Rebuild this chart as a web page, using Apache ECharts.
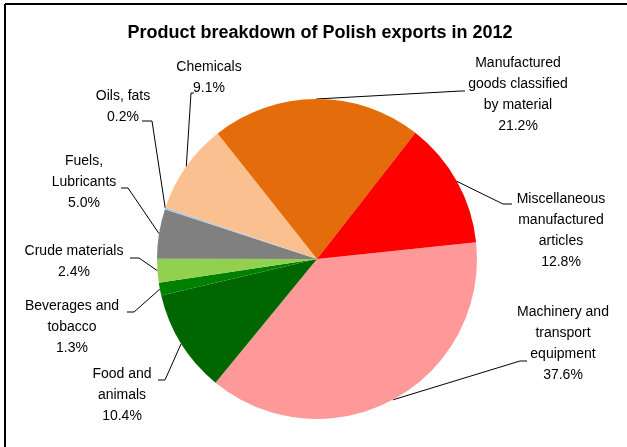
<!DOCTYPE html>
<html>
<head>
<meta charset="utf-8">
<style>
  html, body { margin: 0; padding: 0; background: #fff; }
  #chart { width: 627px; height: 447px; }
</style>
<script src="https://cdn.jsdelivr.net/npm/echarts@6/dist/echarts.min.js"></script>
</head>
<body>
<div id="chart"></div>
<script>
// Product groups, in clockwise drawing order
const categories = [
  'Machinery and\ntransport\nequipment',
  'Food and\nanimals',
  'Beverages and\ntobacco',
  'Crude materials',
  'Fuels,\nLubricants',
  'Oils, fats',
  'Chemicals',
  'Manufactured\ngoods classified\nby material',
  'Miscellaneous\nmanufactured\narticles'
];
// Share of exports, percent
const shares = [37.6, 10.4, 1.3, 2.4, 5.0, 0.2, 9.1, 21.2, 12.8];
const sliceColors = ['#FF9999', '#006600', '#008000', '#92D050', '#808080',
                     '#B4C6DC', '#FAC090', '#E46C0A', '#FF0000'];

// Label block placement: [centre x, top y], and leader elbow / end points
const labelSpots = [
  { x: 563, y: 302, elbow: [520, 361], end: [527, 361] },
  { x: 122, y: 364, elbow: [165, 380], end: [158, 380] },
  { x: 72,  y: 296, elbow: [134, 312], end: [127, 312] },
  { x: 74,  y: 241, elbow: [139, 258], end: [130, 258] },
  { x: 84,  y: 151, elbow: [128, 188], end: [121, 188] },
  { x: 123, y: 86,  elbow: [152, 121], end: [142, 121] },
  { x: 209, y: 57,  elbow: [191, 93],  end: [194, 93] },
  { x: 518, y: 53,  elbow: [461, 91],  end: [465, 91] },
  { x: 561, y: 189, elbow: [503, 204], end: [512, 204] }
];

const chart = echarts.init(document.getElementById('chart'), null, { renderer: 'canvas' });

const option = {
  animation: false,
  backgroundColor: '#ffffff',
  title: {
    text: 'Product breakdown of Polish exports in 2012',
    left: 315,
    top: 19,
    textAlign: 'center',
    textStyle: {
      fontFamily: 'Liberation Sans, Arial, sans-serif',
      fontWeight: 'bold',
      fontSize: 18,
      color: '#000'
    }
  },
  graphic: [
    { type: 'line', shape: { x1: 5, y1: 4, x2: 640, y2: 4 }, style: { stroke: '#000', lineWidth: 2 } },
    { type: 'line', shape: { x1: 5, y1: 4, x2: 5, y2: 460 }, style: { stroke: '#000', lineWidth: 2 } }
  ],
  series: [{
    type: 'pie',
    center: [317, 259],
    radius: 160,
    startAngle: 6,
    clockwise: true,
    avoidLabelOverlap: false,
    itemStyle: { borderWidth: 0 },
    emphasis: { disabled: true },
    label: {
      show: true,
      position: 'outside',
      fontFamily: 'Liberation Sans, Arial, sans-serif',
      fontSize: 14,
      lineHeight: 21,
      color: '#000',
      align: 'center',
      formatter: p => p.name + '\n' + p.value.toFixed(1) + '%'
    },
    labelLine: {
      show: true,
      length: 10,
      length2: 10,
      lineStyle: { color: '#000', width: 1 }
    },
    labelLayout: function (params) {
      const spot = labelSpots[params.dataIndex];
      const start = params.labelLinePoints ? params.labelLinePoints[0] : spot.elbow;
      return {
        x: spot.x,
        y: spot.y,
        align: 'center',
        verticalAlign: 'top',
        hideOverlap: false,
        moveOverlap: null,
        labelLinePoints: [start, spot.elbow, spot.end]
      };
    },
    data: categories.map((name, i) => ({
      name: name,
      value: shares[i],
      itemStyle: { color: sliceColors[i] }
    }))
  }]
};

chart.setOption(option);
</script>
</body>
</html>
